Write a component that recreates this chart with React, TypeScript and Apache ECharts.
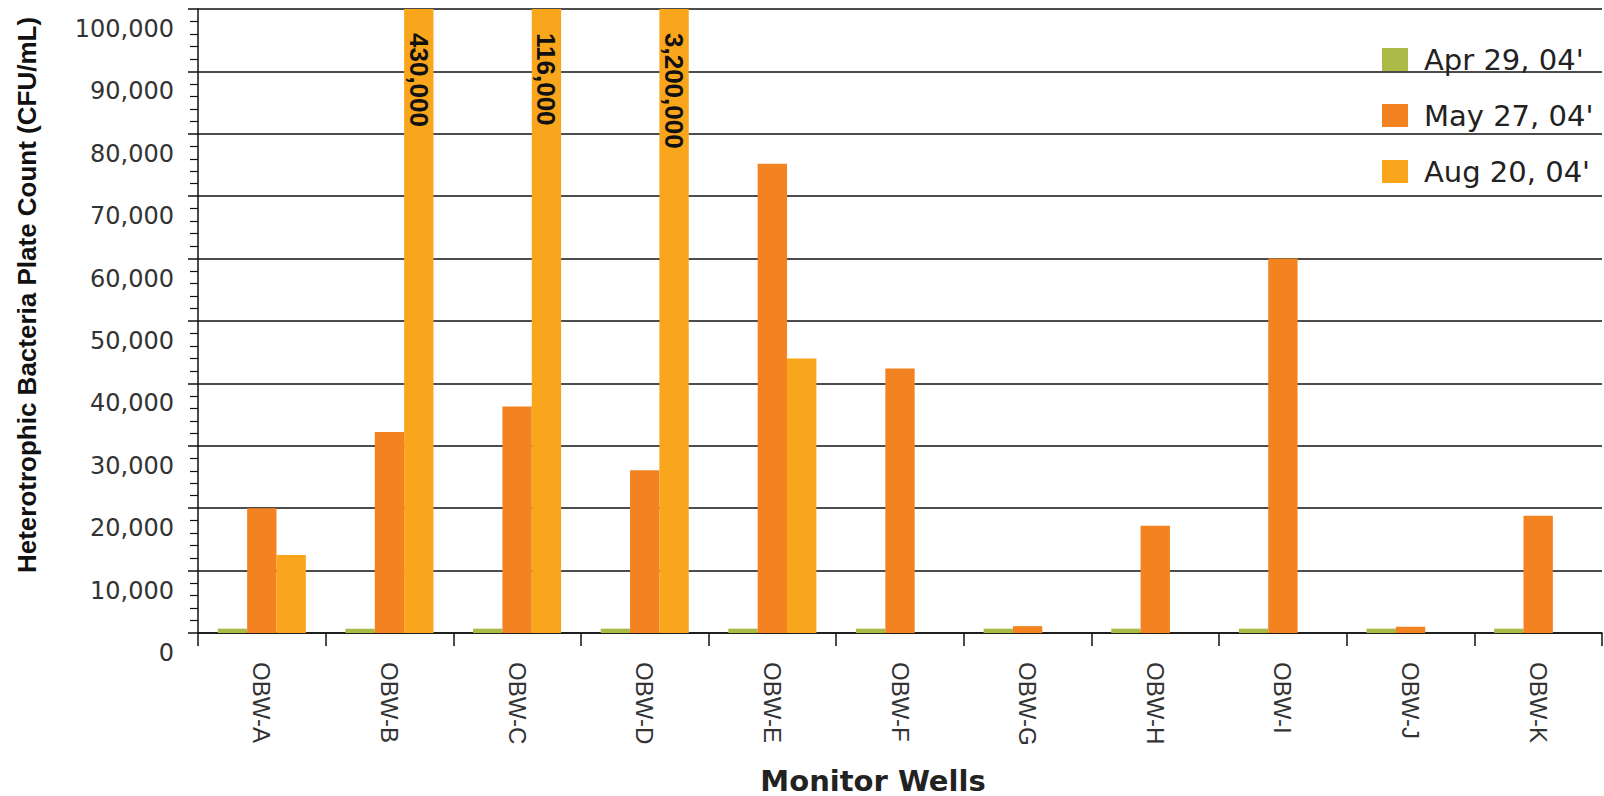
import React, { useEffect, useRef } from "react";
import * as echarts from "echarts";

const categories = ["OBW-A", "OBW-B", "OBW-C", "OBW-D", "OBW-E", "OBW-F", "OBW-G", "OBW-H", "OBW-I", "OBW-J", "OBW-K"];
const seriesNames = ["Apr 29, 04'", "May 27, 04'", "Aug 20, 04'"];
const apr29 = [700, 700, 700, 700, 700, 700, 700, 700, 700, 700, 700];
const may27 = [20000, 32200, 36300, 26100, 75200, 42400, 1100, 17200, 60000, 1000, 18800];
const aug20: (number | null)[] = [12500, 430000, 116000, 3200000, 44000, null, null, null, null, null, null];
const colors = ["#ABBA47", "#F38321", "#F9A61C"];
const yMin = 0;
const yMax = 100000;
const yInterval = 10000;

const helv = "'Liberation Sans', Arial, sans-serif";
const wide = "'DejaVu Sans', 'Liberation Sans', sans-serif";

export default function App() {
  const ref = useRef<HTMLDivElement>(null);
  useEffect(() => {
    if (!ref.current) return;
    const chart = echarts.init(ref.current, null, { renderer: "svg" });
    const fmt = (v: number) => Number(v).toLocaleString("en-US");
    const augData = aug20.map((v) =>
      v != null && v > yMax ? { value: v, label: { show: true } } : v
    );
    chart.setOption({
      animation: false,
      backgroundColor: "#ffffff",
      color: colors,
      grid: {
        left: 198,
        right: 2,
        top: 9,
        bottom: 163,
        containLabel: false,
        outerBoundsMode: "none",
      },
      legend: {
        orient: "vertical",
        left: 1377,
        top: 40,
        itemWidth: 26,
        itemHeight: 23,
        itemGap: 27,
        icon: "rect",
        data: seriesNames,
        textStyle: {
          fontFamily: wide,
          fontSize: 29,
          color: "#222",
          lineHeight: 23,
          padding: [0, 0, 0, 11],
        },
      },
      xAxis: {
        type: "category",
        data: categories,
        name: "Monitor Wells",
        nameLocation: "middle",
        nameGap: 133,
        nameTextStyle: {
          fontFamily: wide,
          fontWeight: "bold",
          fontSize: 29,
          color: "#222",
          padding: [0, 54, 0, 0],
        },
        axisLine: { show: true, lineStyle: { color: "#111", width: 1.5 } },
        axisTick: { show: true, length: 13, lineStyle: { color: "#111", width: 1.5 } },
        axisLabel: {
          interval: 0,
          rotate: -90,
          margin: 29,
          fontFamily: helv,
          fontSize: 24,
          color: "#333",
        },
        splitLine: { show: false },
      },
      yAxis: {
        type: "value",
        min: yMin,
        max: yMax,
        interval: yInterval,
        name: "Heterotrophic Bacteria Plate Count (CFU/mL)",
        nameLocation: "middle",
        nameRotate: 90,
        nameGap: 158,
        nameTextStyle: {
          fontFamily: helv,
          fontWeight: "bold",
          fontSize: 26,
          color: "#111",
          padding: [0, 0, 0, 52],
        },
        axisLine: { show: true, lineStyle: { color: "#111", width: 1.5 } },
        axisTick: { show: true, length: 10, lineStyle: { color: "#111", width: 1.5 } },
        minorTick: { show: true, splitNumber: 5, length: 8, lineStyle: { color: "#111", width: 1.2 } },
        splitLine: { show: true, lineStyle: { color: "#111", width: 1.6 } },
        axisLabel: {
          formatter: fmt,
          fontFamily: wide,
          fontSize: 24,
          color: "#333",
          margin: 24,
          verticalAlign: "top",
          padding: [8, 0, 0, 0],
        },
      },
      series: [
        {
          name: seriesNames[0],
          type: "bar",
          data: apr29,
          barGap: "0%",
          barCategoryGap: "31%",
        },
        {
          name: seriesNames[1],
          type: "bar",
          data: may27,
          barGap: "0%",
          barCategoryGap: "31%",
        },
        {
          name: seriesNames[2],
          type: "bar",
          data: augData,
          barGap: "0%",
          barCategoryGap: "31%",
          clip: true,
          label: {
            show: false,
            position: "insideTop",
            distance: 24,
            rotate: -90,
            align: "left",
            verticalAlign: "middle",
            formatter: (p: any) => fmt(p.value),
            fontFamily: helv,
            fontWeight: "bold",
            fontSize: 26,
            color: "#111",
          },
        },
      ],
    });
    return () => chart.dispose();
  }, []);
  return (
    <div
      ref={ref}
      style={{ position: "absolute", left: 0, top: 0, width: 1604, height: 796 }}
    />
  );
}
